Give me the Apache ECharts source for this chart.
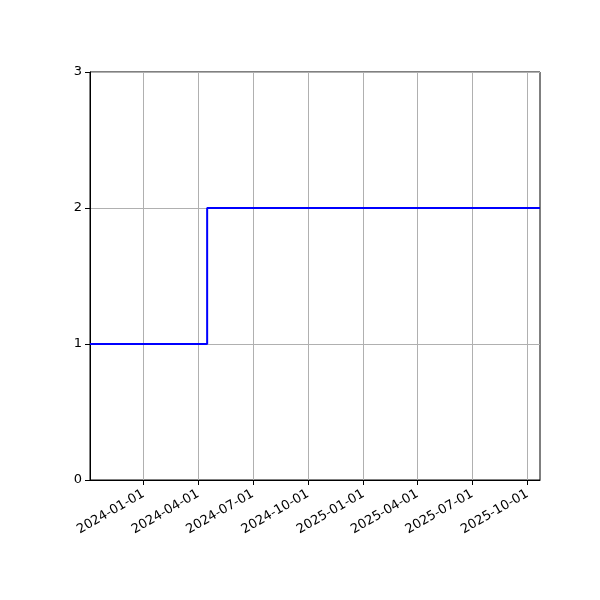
<!DOCTYPE html>
<html>
<head>
<meta charset="utf-8">
<script src="https://cdn.jsdelivr.net/npm/echarts@6/dist/echarts.min.js"></script>
<style>html,body{margin:0;padding:0;background:#fff;}#chart{width:600px;height:600px;}</style>
</head>
<body>
<div id="chart"></div>
<script>
// Data
const dates = ['2023-10-04', '2024-04-16', '2025-10-22'];
const values = [1, 2, 2];
const xTickLabels = ['2024-01-01', '2024-04-01', '2024-07-01', '2024-10-01', '2025-01-01', '2025-04-01', '2025-07-01', '2025-10-01'];
const yTicks = [0, 1, 2, 3];

const ts = d => Date.parse(d + 'T00:00:00Z');
const xTickValues = xTickLabels.map(ts);
const seriesData = dates.map((d, i) => [ts(d), values[i]]);

const chart = echarts.init(document.getElementById('chart'), null, {renderer: 'canvas'});
chart.setOption({
  animation: false,
  backgroundColor: '#ffffff',
  textStyle: {fontFamily: 'DejaVu Sans'},
  grid: {left: 90, right: 60, top: 72, bottom: 120, show: true, borderColor: '#000', borderWidth: 1, backgroundColor: 'transparent', containLabel: false},
  xAxis: {
    type: 'value',
    min: ts(dates[0]),
    max: ts(dates[dates.length - 1]),
    axisLine: {show: true, onZero: false, lineStyle: {color: '#000', width: 1}},
    axisTick: {show: true, length: 5, inside: false, lineStyle: {color: '#000'}, customValues: xTickValues},
    axisLabel: {
      customValues: xTickValues,
      rotate: 30, color: '#000', fontSize: 13, fontFamily: 'DejaVu Sans', margin: 13,
      formatter: v => { const d = new Date(v); return d.toISOString().slice(0, 10); }
    },
    splitLine: {show: true, lineStyle: {color: '#b0b0b0', width: 1}}
  },
  yAxis: {
    type: 'value', min: yTicks[0], max: yTicks[yTicks.length - 1], interval: 1,
    axisLine: {show: true, lineStyle: {color: '#000', width: 1}},
    axisTick: {show: true, length: 5, lineStyle: {color: '#000'}},
    axisLabel: {color: '#000', fontSize: 13, fontFamily: 'DejaVu Sans', margin: 8},
    splitLine: {show: true, lineStyle: {color: '#b0b0b0', width: 1}}
  },
  series: [{
    type: 'line', step: 'end', data: seriesData, showSymbol: false, symbol: 'none',
    lineStyle: {color: '#0000ff', width: 2}, z: 5
  }]
});
</script>
</body>
</html>
